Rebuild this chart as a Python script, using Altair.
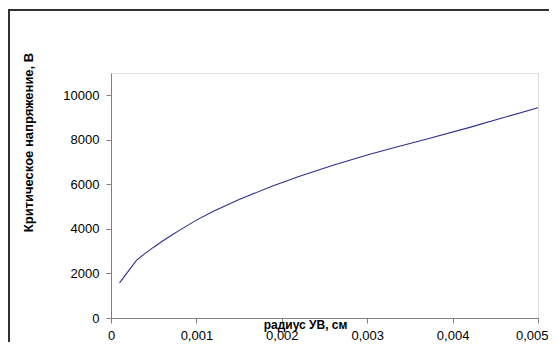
import altair as alt
import pandas as pd

radius = [0.0001, 0.0003, 0.0004, 0.0005, 0.0006, 0.0007, 0.0008, 0.001,
          0.0012, 0.0015, 0.0019, 0.0022, 0.0026, 0.003, 0.0033, 0.0037,
          0.0042, 0.0046, 0.005]
voltage = [1580, 2600, 2900, 3180, 3445, 3695, 3935, 4395,
           4795, 5325, 5935, 6355, 6860, 7320, 7630, 8040,
           8560, 9000, 9440]
x_ticks = [0, 0.001, 0.002, 0.003, 0.004, 0.005]
y_ticks = [0, 2000, 4000, 6000, 8000, 10000]

df = pd.DataFrame({"r": radius, "v": voltage})

FONT = "Liberation Sans"

line = alt.Chart(df).mark_line(color="#2e2e8f", strokeWidth=1.1, clip=False).encode(
    x=alt.X("r:Q",
            scale=alt.Scale(domain=[0, 0.005], nice=False, zero=True),
            axis=alt.Axis(values=x_ticks, title="радиус УВ, см",
                          labelExpr="datum.value == 0 ? '0' : replace(format(datum.value, '.3f'), '.', ',')",
                          grid=False, domainColor="#808080", tickColor="#808080",
                          tickSize=5, labelPadding=6, labelFontSize=13, labelFont=FONT,
                          labelColor="#000000", labelFlush=False,
                          labelAlign={"condition": {"test": "datum.value >= 0.0049", "value": "right"},
                                      "value": "center"},
                          labelOffset={"condition": {"test": "datum.value >= 0.0049", "value": 10},
                                       "value": 0},
                          titleFont=FONT, titleFontSize=12, titleFontWeight="bold",
                          titleColor="#000000", titleX=194, titleY=1,
                          titleAlign="center", titleBaseline="top")),
    y=alt.Y("v:Q",
            scale=alt.Scale(domain=[0, 11000], nice=False),
            axis=alt.Axis(values=y_ticks, title="Критическое напряжение, В", format="d",
                          grid=False, domainColor="#808080", tickColor="#808080",
                          tickSize=5, labelPadding=7, labelFontSize=13, labelFont=FONT,
                          labelColor="#000000",
                          titleFont=FONT, titleFontSize=13, titleFontWeight="bold",
                          titleColor="#000000", titleX=-83, titleY=69, titleAngle=270,
                          titleAlign="center", titleBaseline="middle")),
)

frame = alt.Chart(df).mark_rect(fill=None, stroke="#333333", strokeWidth=1.2, clip=False).encode(
    x=alt.value(-102), x2=alt.value(520), y=alt.value(-63), y2=alt.value(330)
)

chart = alt.layer(frame, line).properties(
    width=427, height=245,
    padding={"left": 103, "top": 65, "right": 11, "bottom": 24},
    autosize=alt.AutoSizeParams(type="none"),
).configure_view(stroke=None).configure(background="white")

chart.save("out.html", embed_options={"renderer": "svg", "actions": False})
